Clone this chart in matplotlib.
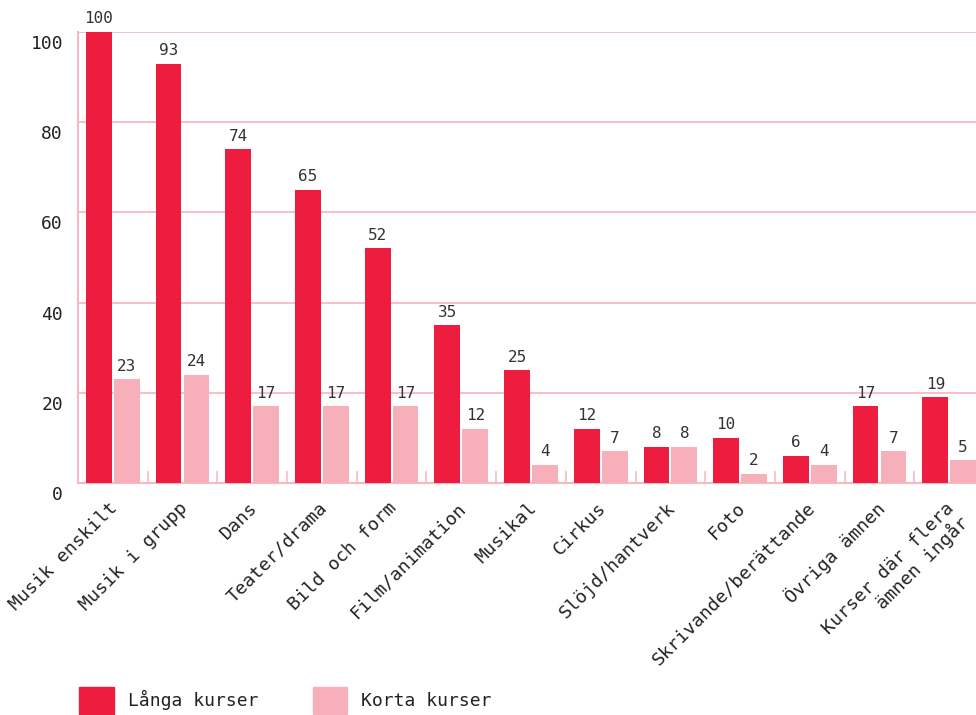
import matplotlib
matplotlib.use("Agg")
import matplotlib.pyplot as plt
import numpy as np
from matplotlib.transforms import ScaledTranslation
from matplotlib.patches import Patch

categories = ["Musik enskilt", "Musik i grupp", "Dans", "Teater/drama", "Bild och form",
              "Film/animation", "Musikal", "Cirkus", "Slöjd/hantverk", "Foto",
              "Skrivande/berättande", "Övriga ämnen", "Kurser där flera\nämnen ingår"]
langa = [100, 93, 74, 65, 52, 35, 25, 12, 8, 10, 6, 17, 19]
korta = [23, 24, 17, 17, 17, 12, 4, 7, 8, 2, 4, 7, 5]
series_names = ["Långa kurser", "Korta kurser"]
yticks = [0, 20, 40, 60, 80, 100]

RED = "#EE1C3E"
PINK = "#F7AFBA"
GRID = "#F7B9C3"
TXT = "#222222"

plt.rcParams['font.family'] = ['DejaVu Sans Mono', 'DejaVu Sans']

fig = plt.figure(figsize=(9.76, 7.15), dpi=100)
W, H = 976, 715
left, right, top, bottom = 78, 984, 32, 483
ax = fig.add_axes([left / W, 1 - bottom / H, (right - left) / W, (bottom - top) / H])

x = np.arange(len(categories))
w = 0.37
b1 = ax.bar(x - 0.2, langa, width=w, color=RED, zorder=3)
b2 = ax.bar(x + 0.2, korta, width=w, color=PINK, zorder=3)

for bars, vals in ((b1, langa), (b2, korta)):
    for rect, v in zip(bars, vals):
        ax.annotate(str(v), (rect.get_x() + rect.get_width() / 2, v),
                    xytext=(0, 4), textcoords="offset points", ha="center", va="bottom",
                    fontsize=11.5, color="#333333", annotation_clip=False, clip_on=False)

ax.set_xlim(-0.5, len(categories) - 0.5)
ax.set_ylim(0, 100)
ax.set_yticks(yticks)
ax.set_yticklabels([str(t) for t in yticks], fontsize=13, color=TXT)
ax.tick_params(axis="y", length=0, pad=10.8)
offset_y = ScaledTranslation(0, -10 / 100, fig.dpi_scale_trans)
for lab in ax.get_yticklabels():
    lab.set_transform(lab.get_transform() + offset_y)

ax.set_xticks(x)
ax.set_xticklabels(categories, rotation=45, ha="right", va="top", rotation_mode="anchor",
                   fontsize=13.2, color=TXT, multialignment="right", linespacing=1.05)
ax.tick_params(axis="x", which="major", length=0, pad=10)
offset_x = ScaledTranslation(-4 / 100, -2 / 100, fig.dpi_scale_trans)
for lab in ax.get_xticklabels():
    lab.set_transform(lab.get_transform() + offset_x)
ax.set_xticks(np.arange(-0.5, len(categories), 1), minor=True)
ax.tick_params(axis="x", which="minor", direction="in", length=9, width=1.2, color=GRID)

ax.grid(axis="y", color=GRID, linewidth=1.3, zorder=0)
for s in ("top", "right"):
    ax.spines[s].set_visible(False)
for s in ("left", "bottom"):
    ax.spines[s].set_color(GRID)
    ax.spines[s].set_linewidth(1.5)

handles = [Patch(color=RED), Patch(color=PINK)]
fig.legend(handles, series_names, loc="upper left", bbox_to_anchor=(72 / W, 1 - 680 / H),
           ncol=2, frameon=False, fontsize=13, handlelength=1.9, handleheight=1.9,
           handletextpad=0.8, columnspacing=3.0, labelcolor=TXT, borderaxespad=0)

fig.savefig("out.png", dpi=100)
